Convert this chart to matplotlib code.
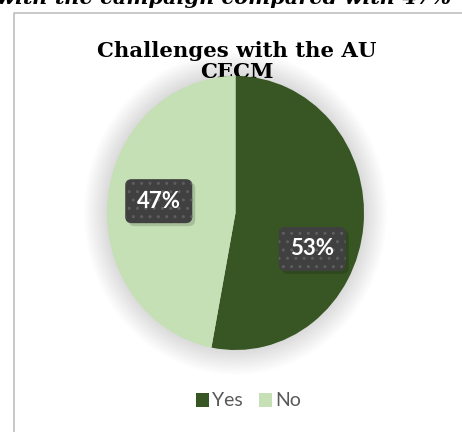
import numpy as np
import matplotlib
matplotlib.use("Agg")
import matplotlib.pyplot as plt
from matplotlib.patches import Ellipse, FancyBboxPatch
from matplotlib.lines import Line2D

# data
categories = ["Yes", "No"]
shares = [53, 47]
slice_colors = ["#375623", "#c5e0b4"]
chart_title = "Challenges with the AU\nCECM"
caption_above = "with the campaign compared with 47%"

W, H = 462, 432
fig = plt.figure(figsize=(W / 100, H / 100), dpi=100)
fig.patch.set_facecolor("white")

# background layer in pixel coords
bg = fig.add_axes([0, 0, 1, 1])
bg.set_xlim(0, W)
bg.set_ylim(H, 0)
bg.axis("off")

# cut-off document text above the chart
bg.text(224, 4, caption_above, ha="center", va="baseline", fontsize=15,
        fontweight="bold", style="italic", family="DejaVu Serif", color="black")

# chart frame (left and top edges visible)
bg.add_line(Line2D([14, 14, W + 5], [H + 5, 13, 13], color="#bfbfbf", lw=1.2))

bg.text(237, 41, chart_title, ha="center", va="top", fontsize=15.3,
        fontweight="bold", family="DejaVu Serif", color="black", linespacing=1.05)

# pie axes
cx, cy = 235.5, 213
rx, ry = 128.5, 137
lim = 1.3
pie_ax = fig.add_axes([(cx - lim * rx) / W, 1 - (cy + lim * ry) / H,
                       2 * lim * rx / W, 2 * lim * ry / H])
pie_ax.patch.set_alpha(0)

# soft glow around the pie
n_glow = 18
for k in range(n_glow, 0, -1):
    r = 1.0 + 0.18 * k / n_glow
    pie_ax.add_patch(Ellipse((0, 0), 2 * r, 2 * r, color="black",
                             alpha=0.007, lw=0, zorder=0))

wedges, _ = pie_ax.pie(shares, colors=slice_colors, startangle=90,
                       counterclock=False, radius=1.0,
                       wedgeprops=dict(linewidth=0, zorder=2))
pie_ax.set_aspect("auto")
pie_ax.set_xlim(-lim, lim)
pie_ax.set_ylim(-lim, lim)
pie_ax.axis("off")

# data labels in dark rounded boxes
label_dist = 0.6
label_nudge = [(0.0, -0.206), (0.0, 0.03)]
box_w, box_h = 67 / rx, 44 / ry
for w, val, (nx, ny) in zip(wedges, shares, label_nudge):
    mid = np.deg2rad((w.theta1 + w.theta2) / 2)
    lx = label_dist * np.cos(mid) + nx
    ly = label_dist * np.sin(mid) + ny
    shadow = FancyBboxPatch((lx - box_w / 2 + 3 / rx, ly - box_h / 2 - 3 / ry),
                            box_w, box_h,
                            boxstyle="round,pad=0,rounding_size=0.05",
                            mutation_aspect=rx / ry,
                            facecolor="black", alpha=0.15, lw=0, zorder=3)
    pie_ax.add_patch(shadow)
    box = FancyBboxPatch((lx - box_w / 2, ly - box_h / 2), box_w, box_h,
                         boxstyle="round,pad=0,rounding_size=0.05",
                         mutation_aspect=rx / ry,
                         facecolor="#404040", lw=0, zorder=4)
    pie_ax.add_patch(box)
    dots = FancyBboxPatch((lx - box_w / 2, ly - box_h / 2), box_w, box_h,
                          boxstyle="round,pad=0,rounding_size=0.05",
                          mutation_aspect=rx / ry, facecolor="none",
                          edgecolor="#5e5e5e", hatch="..", lw=0, zorder=4.5)
    pie_ax.add_patch(dots)
    pie_ax.text(lx, ly, f"{val}%", ha="center", va="center", fontsize=16,
                fontweight="bold", family="Lato", color="white", zorder=5)

fig.legend(wedges, categories, loc="center", bbox_to_anchor=(248.5 / W, 1 - 401 / H),
           ncol=2, frameon=False, prop=dict(family="Lato", size=14),
           labelcolor="#595959", handlelength=0.68, handleheight=0.7,
           handletextpad=0.15, columnspacing=0.8)

fig.savefig("out.png", dpi=100, facecolor="white")
